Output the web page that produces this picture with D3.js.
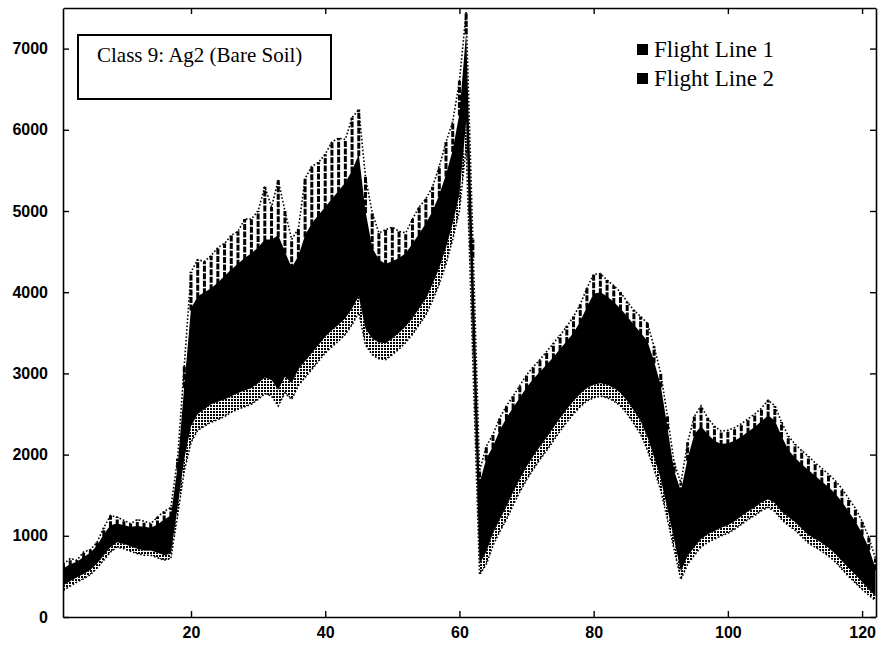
<!DOCTYPE html>
<html>
<head>
<meta charset="utf-8">
<script src="https://cdn.jsdelivr.net/npm/d3@7"></script>
<style>
  body { margin: 0; background: #fff; }
  .tick text { font-family: "Liberation Sans", Arial, sans-serif; font-size: 16px; font-weight: bold; fill: #000; }
</style>
</head>
<body>
<svg id="chart" width="881" height="648"></svg>
<script>
// Spectral band numbers (x axis)
const bands = d3.range(1, 123);

// Flight Line 1: highest and lowest value at each band
const fl1Max = [
  650, 720, 700, 800, 830, 920, 1100, 1250, 1230, 1190,
  1150, 1200, 1180, 1150, 1230, 1300, 1350, 1950, 3100, 4250,
  4400, 4380, 4450, 4550, 4600, 4700, 4750, 4900, 4900, 5000,
  5300, 5050, 5380, 5000, 4650, 4780, 5400, 5550, 5600, 5700,
  5850, 5900, 5880, 6150, 6250, 5420, 4980, 4730, 4770, 4800,
  4750, 4730, 4900, 5050, 5150, 5300, 5550, 5850, 6100, 6600,
  7450, 4650, 1800, 2100, 2250, 2450, 2600, 2720, 2850, 2980,
  3080, 3170, 3270, 3370, 3470, 3580, 3700, 3850, 4050, 4220,
  4230, 4150, 4080, 4000, 3880, 3780, 3700, 3620, 3330, 3000,
  2470, 1900, 1650, 2150, 2470, 2600, 2450, 2350, 2290, 2300,
  2330, 2380, 2440, 2500, 2570, 2670, 2600, 2400, 2230, 2130,
  2050, 1980, 1900, 1830, 1760, 1680, 1580, 1460, 1340, 1180,
  980, 720
];
const fl1Min = [
  390, 440, 490, 530, 580, 660, 760, 860, 920, 900,
  870, 840, 820, 820, 790, 760, 780, 1350, 1950, 2350,
  2500, 2560, 2620, 2650, 2680, 2720, 2760, 2790, 2820, 2880,
  2950, 2920, 2800, 2960, 2880, 3050, 3150, 3250, 3350, 3450,
  3530, 3600, 3680, 3800, 3950, 3550, 3430, 3380, 3370, 3430,
  3500, 3580, 3680, 3800, 3920, 4100, 4300, 4550, 4850, 5200,
  6100, 3400, 650, 800, 1030, 1200, 1360, 1540, 1700, 1850,
  1980, 2100, 2210, 2330, 2450, 2560, 2660, 2750, 2820, 2860,
  2880, 2860, 2820, 2760, 2660, 2540, 2410, 2220, 1970, 1700,
  1330, 950, 560, 750, 860, 960, 1020, 1060, 1100, 1130,
  1180, 1240, 1300, 1350, 1410, 1450, 1400, 1300, 1230, 1170,
  1090, 1010, 960, 910, 850, 780, 690, 600, 520, 430,
  340, 260
];

// Flight Line 2: highest and lowest value at each band
const fl2Max = [
  600, 650, 680, 740, 790, 880, 1020, 1130, 1150, 1130,
  1110, 1120, 1110, 1100, 1140, 1200, 1250, 1850, 2850, 3800,
  3950, 4000, 4050, 4120, 4200, 4280, 4350, 4420, 4480, 4550,
  4650, 4650, 4700, 4500, 4300, 4450, 4700, 4850, 4950, 5050,
  5150, 5250, 5350, 5500, 5700, 5000, 4550, 4400, 4350, 4380,
  4420, 4480, 4600, 4720, 4850, 5000, 5200, 5450, 5750, 6200,
  7200, 4450, 1650, 1950, 2100, 2300, 2450, 2580, 2700, 2830,
  2930, 3020, 3110, 3200, 3300, 3400, 3500, 3640, 3820, 3980,
  4000, 3950, 3880, 3800, 3700, 3600, 3500, 3400, 3150, 2850,
  2330, 1800, 1550, 1950, 2250, 2350, 2250, 2170, 2130, 2140,
  2170, 2220, 2280, 2340, 2410, 2480, 2420, 2230, 2060, 1960,
  1880, 1810, 1740, 1670, 1600, 1520, 1420, 1300, 1180, 1030,
  850, 600
];
const fl2Min = [
  330, 380, 430, 470, 520, 600, 700, 800, 860, 840,
  810, 780, 760, 760, 730, 700, 720, 1250, 1800, 2150,
  2300, 2350, 2400, 2430, 2470, 2520, 2560, 2590, 2620, 2680,
  2750, 2720, 2600, 2760, 2680, 2850, 2950, 3050, 3150, 3250,
  3330, 3400, 3480, 3600, 3750, 3350, 3230, 3180, 3170, 3230,
  3300, 3380, 3480, 3600, 3720, 3900, 4100, 4350, 4650, 5000,
  5800, 3150, 520, 650, 880, 1050, 1200, 1380, 1540, 1690,
  1820, 1940, 2050, 2170, 2290, 2400, 2500, 2590, 2660, 2700,
  2720, 2700, 2660, 2600, 2500, 2380, 2250, 2060, 1820, 1560,
  1200, 830, 460, 650, 760, 860, 920, 960, 1000, 1030,
  1080, 1140, 1200, 1250, 1310, 1350, 1300, 1200, 1130, 1070,
  990, 910, 860, 810, 750, 680, 590, 500, 420, 340,
  270, 200
];

const xTicks = [20, 40, 60, 80, 100, 120];
const yTicks = [0, 1000, 2000, 3000, 4000, 5000, 6000, 7000];
const boxTitle = "Class 9: Ag2 (Bare Soil)";
const seriesNames = ["Flight Line 1", "Flight Line 2"];

const svg = d3.select("#chart");
const plot = { left: 63, right: 876, top: 8, bottom: 617 };

const x = d3.scaleLinear().domain([1, 122]).range([63.5, 875.5]);
const y = d3.scaleLinear().domain([0, 7500]).range([plot.bottom, plot.top]);

const defs = svg.append("defs");
defs.append("clipPath").attr("id", "plotClip")
  .append("rect")
  .attr("x", plot.left).attr("y", plot.top)
  .attr("width", plot.right - plot.left).attr("height", plot.bottom - plot.top);

// stipple for the sparsely covered lower fringe of the bundle
const dots = defs.append("pattern").attr("id", "dots")
  .attr("patternUnits", "userSpaceOnUse").attr("width", 3).attr("height", 3);
dots.append("rect").attr("width", 2).attr("height", 2).attr("fill", "#000");

const g = svg.append("g").attr("clip-path", "url(#plotClip)");

const rows = bands.map((b, i) => ({
  b, max1: fl1Max[i], min1: fl1Min[i], max2: fl2Max[i], min2: fl2Min[i]
}));

// lower fringe: only Flight Line 2 spectra
g.append("path").datum(rows)
  .attr("fill", "url(#dots)")
  .attr("d", d3.area().x(d => x(d.b)).y0(d => y(d.min2)).y1(d => y(d.min1)));

// overlap of both flight lines: dense core
g.append("path").datum(rows)
  .attr("fill", "#000")
  .attr("d", d3.area().x(d => x(d.b)).y0(d => y(d.min1)).y1(d => y(d.max2)));

// per-band scatter above the core (Flight Line 1 only)
g.append("g").selectAll("line").data(rows).join("line")
  .attr("x1", d => x(d.b)).attr("x2", d => x(d.b))
  .attr("y1", d => y(d.max2) + 2).attr("y2", d => y(d.max1))
  .attr("stroke", "#000").attr("stroke-width", 3)
  .attr("stroke-dasharray", "6 1.5");

// dotted outer spectra
const dotted = (key) => d3.line().x(d => x(d.b)).y(d => y(d[key]));
g.append("path").datum(rows)
  .attr("fill", "none").attr("stroke", "#000").attr("stroke-width", 1.6)
  .attr("stroke-dasharray", "1.6 2")
  .attr("d", dotted("max1"));
g.append("path").datum(rows)
  .attr("fill", "none").attr("stroke", "#000").attr("stroke-width", 1.6)
  .attr("stroke-dasharray", "1.6 2")
  .attr("d", dotted("min2"));

// axes box with inward ticks on all four sides
const fmt = d3.format("d");
const axes = [
  { axis: d3.axisBottom(x).tickValues(xTicks).tickSize(-6).tickSizeOuter(0).tickPadding(10).tickFormat(fmt), t: `translate(0,${plot.bottom})` },
  { axis: d3.axisTop(x).tickValues(xTicks).tickSize(-6).tickSizeOuter(0).tickFormat(""), t: `translate(0,${plot.top})` },
  { axis: d3.axisLeft(y).tickValues(yTicks).tickSize(-6).tickSizeOuter(0).tickPadding(15).tickFormat(fmt), t: `translate(${plot.left},0)` },
  { axis: d3.axisRight(y).tickValues(yTicks).tickSize(-6).tickSizeOuter(0).tickFormat(""), t: `translate(${plot.right},0)` }
];
axes.forEach(a => {
  const ag = svg.append("g").attr("transform", a.t).call(a.axis);
  ag.select(".domain").attr("stroke-width", 1.6);
  ag.selectAll(".tick line").attr("stroke-width", 1.4);
});

// class annotation box
svg.append("rect")
  .attr("x", 78).attr("y", 35).attr("width", 253).attr("height", 64)
  .attr("fill", "#fff").attr("stroke", "#000").attr("stroke-width", 2);
svg.append("text")
  .attr("x", 97).attr("y", 62)
  .attr("font-family", "'Liberation Serif', 'Times New Roman', serif")
  .attr("font-size", 21)
  .text(boxTitle);

// legend
const legend = svg.append("g").selectAll("g").data(seriesNames).join("g")
  .attr("transform", (d, i) => `translate(637,${44 + i * 29})`);
legend.append("rect").attr("width", 11).attr("height", 11).attr("fill", "#000");
legend.append("text")
  .attr("x", 17).attr("y", 13)
  .attr("font-family", "'Liberation Serif', 'Times New Roman', serif")
  .attr("font-size", 23)
  .text(d => d);
</script>
</body>
</html>
